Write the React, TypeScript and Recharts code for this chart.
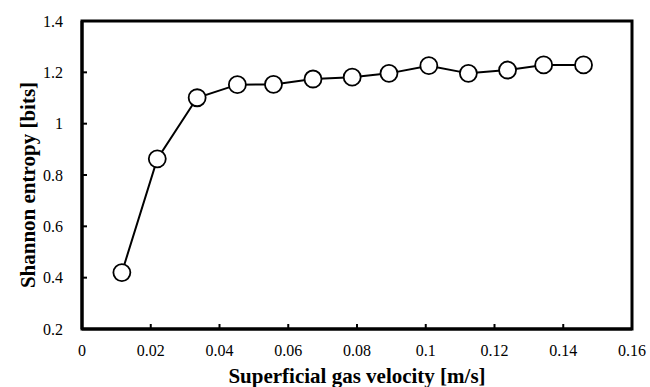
import React from 'react';
import { LineChart, Line, XAxis, YAxis, ReferenceArea } from 'recharts';

// gas velocity [m/s] and entropy [bits]
const velocity = [0.0116, 0.0219, 0.0335, 0.0452, 0.0557, 0.0672, 0.0786, 0.0893, 0.1009, 0.1124, 0.1238, 0.1343, 0.1459];
const entropy = [0.42, 0.863, 1.101, 1.152, 1.153, 1.174, 1.181, 1.196, 1.226, 1.196, 1.209, 1.229, 1.229];

const xTicks = [0, 0.02, 0.04, 0.06, 0.08, 0.1, 0.12, 0.14, 0.16];
const yTicks = [0.2, 0.4, 0.6, 0.8, 1, 1.2, 1.4];

const font = "'Times New Roman', 'Liberation Serif', 'DejaVu Serif', serif";

const data = velocity.map((v, i) => ({ v, s: entropy[i] }));

const fmt = (n: number) => String(+n.toFixed(2));

export default function App() {
  return (
    <div style={{ position: 'absolute', left: 0, top: 0, width: 650, height: 387, background: '#fff', fontFamily: font }}>
      <LineChart
        width={650}
        height={387}
        data={data}
        margin={{ top: 21, right: 18, left: 22, bottom: 28 }}
        style={{ fontFamily: font }}
      >
        <ReferenceArea
          x1={0}
          x2={0.16}
          y1={0.2}
          y2={1.4}
          fill="none"
          stroke="#000"
          strokeWidth={3}
          ifOverflow="visible"
        />
        <XAxis
          dataKey="v"
          type="number"
          domain={[0, 0.16]}
          ticks={xTicks}
          tickFormatter={fmt}
          height={30}
          axisLine={{ stroke: '#000', strokeWidth: 3 }}
          tickLine={{ stroke: '#000', strokeWidth: 2 }}
          tickSize={-5}
          tickMargin={21}
          tick={{ fill: '#000', fontSize: 16, style: { fontFamily: font } }}
          label={{
            content: () => (
              <text x={357} y={383} textAnchor="middle" fontSize={21} fontWeight="bold" fill="#000" style={{ fontFamily: font }}>
                Superficial gas velocity [m/s]
              </text>
            ),
          }}
        />
        <YAxis
          dataKey="s"
          type="number"
          domain={[0.2, 1.4]}
          ticks={yTicks}
          tickFormatter={fmt}
          width={60}
          axisLine={{ stroke: '#000', strokeWidth: 3 }}
          tickLine={{ stroke: '#000', strokeWidth: 2 }}
          tickSize={-5}
          tickMargin={24}
          tick={{ fill: '#000', fontSize: 16, style: { fontFamily: font } }}
          label={{
            content: () => (
              <text
                x={28}
                y={185}
                transform="rotate(-90 28 185)"
                textAnchor="middle"
                dominantBaseline="central"
                fontSize={21}
                fontWeight="bold"
                fill="#000"
                style={{ fontFamily: font }}
              >
                Shannon entropy [bits]
              </text>
            ),
          }}
        />
        <Line
          dataKey="s"
          stroke="#000"
          strokeWidth={2}
          dot={{ r: 8.5, fill: '#fff', stroke: '#000', strokeWidth: 1.8 }}
          isAnimationActive={false}
        />
      </LineChart>
    </div>
  );
}
